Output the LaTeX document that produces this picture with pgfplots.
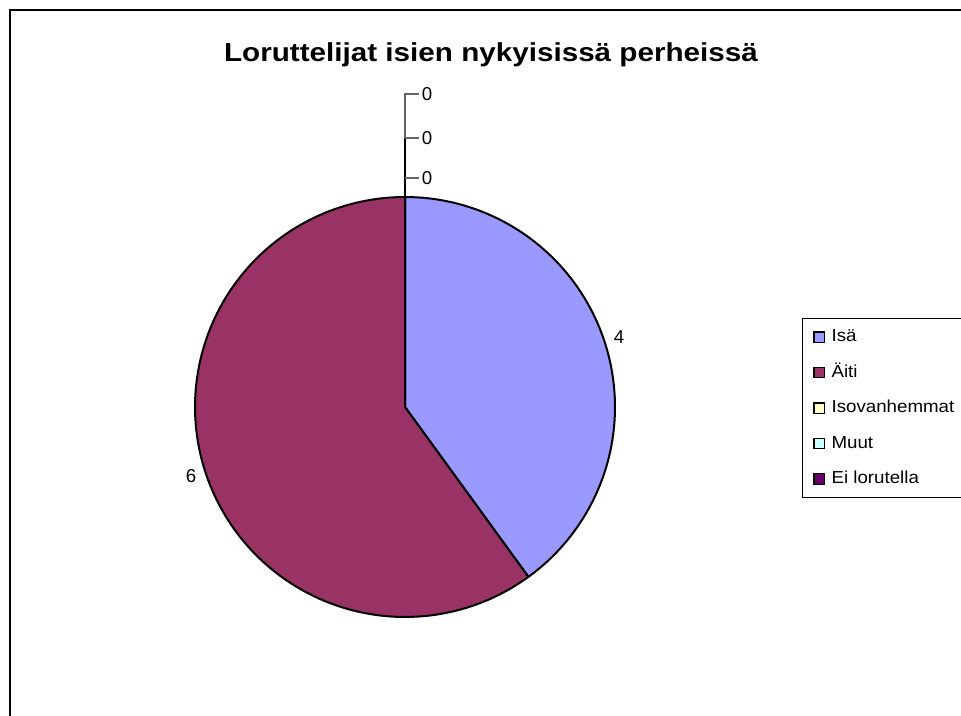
\documentclass[border=0pt]{standalone}
\usepackage{fontspec}
\setmainfont{Liberation Sans}
\newfontfamily\titlefont[FakeStretch=1.14]{Liberation Sans}
\newfontfamily\legfont[FakeStretch=1.08]{Liberation Sans}
\usepackage{pgfplots}
\usepackage{pgfplotstable}
\pgfplotsset{compat=1.18}
\definecolor{isa}{HTML}{9999FF}
\definecolor{aiti}{HTML}{993366}
\definecolor{iso}{HTML}{FFFFCC}
\definecolor{muut}{HTML}{CCFFFF}
\definecolor{ei}{HTML}{660066}

\pgfplotstableread{
label value
Isa 4
Aiti 6
Iso 0
Muut 0
Ei 0
}\piedata

\begin{document}%
\begin{tikzpicture}
\pgfplotstablegetelem{0}{value}\of\piedata \let\vA\pgfplotsretval
\pgfplotstablegetelem{1}{value}\of\piedata \let\vB\pgfplotsretval
\pgfplotstablegetelem{2}{value}\of\piedata \let\vC\pgfplotsretval
\pgfplotstablegetelem{3}{value}\of\piedata \let\vD\pgfplotsretval
\pgfplotstablegetelem{4}{value}\of\piedata \let\vE\pgfplotsretval
\pgfmathsetmacro\tot{\vA+\vB+\vC+\vD+\vE}
\pgfmathsetmacro\aZero{90}
\pgfmathsetmacro\aOne{90-360*\vA/\tot}
\pgfmathsetmacro\aTwo{\aOne-360*\vB/\tot}
\pgfmathsetmacro\mA{(\aZero+\aOne)/2}
\pgfmathsetmacro\mB{(\aOne+\aTwo)/2}
\begin{axis}[
  scale only axis, width=720.75pt, height=537pt,
  xmin=0, xmax=961, ymin=0, ymax=716, y dir=reverse,
  hide axis, clip=false,
  legend image code/.code={\draw[#1, line width=1pt] (0pt,-3.9pt) rectangle (7.8pt,3.9pt);},
  legend cell align=left,
  legend style={at={(axis cs:802,318)}, anchor=north west, draw=black, line width=0.75pt,
    inner xsep=8pt, inner ysep=8pt, row sep=14.6pt, column sep=5pt,
    font=\legfont\fontsize{13}{15}\selectfont,
    nodes={inner sep=0pt, text height=9.5pt, text depth=2.5pt}},
]
\coordinate (bbA) at (axis cs:0,716);
\coordinate (bbB) at (axis cs:961,0);
% frame
\draw[line width=1.5pt] (axis cs:10,730) -- (axis cs:10,10) -- (axis cs:975,10);
% title
\node[font=\titlefont\bfseries\fontsize{19.5}{22}\selectfont, anchor=base] at (axis cs:491,62) {Loruttelijat isien nykyisissä perheissä};
% slices
\addplot[fill=isa, draw=black, line width=1.5pt, line join=round, domain=\aOne:\aZero, samples=90, variable=\t, forget plot]
  ({405+210*cos(\t)},{407-210*sin(\t)}) -- (axis cs:405,407) -- cycle;
\addplot[fill=aiti, draw=black, line width=1.5pt, line join=round, domain=\aTwo:\aOne, samples=120, variable=\t, forget plot]
  ({405+210*cos(\t)},{407-210*sin(\t)}) -- (axis cs:405,407) -- cycle;
% data labels
\node[font=\fontsize{14}{16}\selectfont] at (axis cs:{405+225*cos(\mA)},{407-225*sin(\mA)}) {\vA};
\node[font=\fontsize{14}{16}\selectfont] at (axis cs:{405+225*cos(\mB)},{407-225*sin(\mB)}) {\vB};
% zero leaders
\draw[gray!80!black, line width=0.8pt] (axis cs:405,138) -- (axis cs:405,94) -- (axis cs:419,94);
\draw[black, line width=0.9pt] (axis cs:405,197) -- (axis cs:405,138);
\draw[gray!80!black, line width=0.8pt] (axis cs:405,138) -- (axis cs:419,138);
\draw[gray!80!black, line width=0.8pt] (axis cs:405,178) -- (axis cs:419,178);
\node[font=\fontsize{14}{16}\selectfont] at (axis cs:427,94) {\vE};
\node[font=\fontsize{14}{16}\selectfont] at (axis cs:427,138) {\vD};
\node[font=\fontsize{14}{16}\selectfont] at (axis cs:427,178) {\vC};
% legend
\addlegendimage{fill=isa, draw=black}
\addlegendimage{fill=aiti, draw=black}
\addlegendimage{fill=iso, draw=black}
\addlegendimage{fill=muut, draw=black}
\addlegendimage{fill=ei, draw=black}
\legend{Isä, Äiti, Isovanhemmat, Muut, Ei lorutella}
\end{axis}
\pgfresetboundingbox
\useasboundingbox (bbA) rectangle (bbB);
\end{tikzpicture}%
\end{document}
